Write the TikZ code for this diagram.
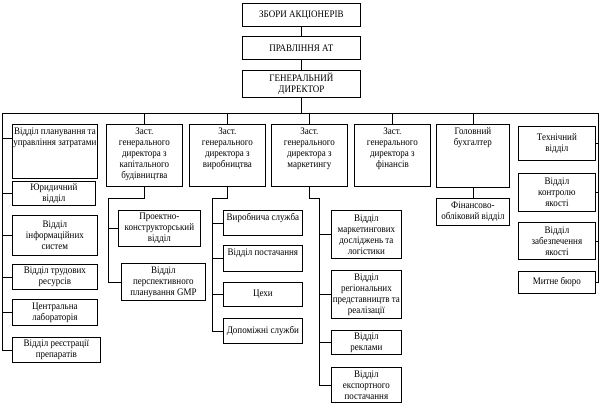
\documentclass[tikz,border=0pt]{standalone}
\usepackage{fontspec}
\setmainfont[FakeStretch=0.9]{Liberation Serif}
\usetikzlibrary{calc}
\newcommand{\bxt}[4]{\parbox[c][#2][#3]{#1}{\centering #4}}
\newcommand{\tpad}{\vspace*{3pt}}
\begin{document}
\begin{tikzpicture}[x=1pt,y=-1pt,
  bx/.style={draw, line width=0.8pt, inner sep=0pt, anchor=north west,
    font=\fontsize{10}{11}\selectfont},
  ln/.style={draw, line width=0.8pt}]
\useasboundingbox (0,0) rectangle (602,405);
% top
\node[bx] (sa) at (242,3) {\bxt{118pt}{23pt}{c}{ЗБОРИ АКЦІОНЕРІВ}};
\node[bx] (pr) at (242,36) {\bxt{118pt}{23pt}{c}{ПРАВЛІННЯ АТ}};
\node[bx] (gd) at (242,70) {\bxt{118pt}{27pt}{c}{ГЕНЕРАЛЬНИЙ\\ДИРЕКТОР}};
% left column
\node[bx] (l1) at (12,124) {\bxt{85pt}{54pt}{t}{\tpad Відділ планування та\\управління затратами}};
\node[bx] (l2) at (12,181) {\bxt{83pt}{24pt}{c}{Юридичний\\відділ}};
\node[bx] (l3) at (12,215) {\bxt{85pt}{40pt}{c}{Відділ\\інформаційних\\систем}};
\node[bx] (l4) at (12,264) {\bxt{85pt}{25pt}{c}{Відділ трудових\\ресурсів}};
\node[bx] (l5) at (12,299) {\bxt{85pt}{26pt}{c}{Центральна\\лабораторія}};
\node[bx] (l6) at (12,337) {\bxt{88pt}{25pt}{c}{Відділ реєстрації\\препаратів}};
% column 2
\node[bx] (z1) at (106,124) {\bxt{76pt}{62pt}{t}{\tpad Заст.\\генерального\\директора з\\капітального\\будівництва}};
\node[bx] (p1) at (118,210) {\bxt{82pt}{36pt}{c}{Проектно-\\конструкторський\\відділ}};
\node[bx] (p2) at (121,263) {\bxt{84pt}{37pt}{c}{Відділ\\перспективного\\планування GMP}};
% column 3
\node[bx] (z2) at (189,124) {\bxt{76pt}{62pt}{t}{\tpad Заст.\\генерального\\директора з\\виробництва}};
\node[bx] (v1) at (223,210) {\bxt{79pt}{25pt}{t}{\tpad Виробнича служба}};
\node[bx] (v2) at (223,245) {\bxt{79pt}{26pt}{t}{\tpad Відділ постачання}};
\node[bx] (v3) at (223,282) {\bxt{79pt}{24pt}{c}{Цехи}};
\node[bx] (v4) at (223,318) {\bxt{79pt}{25pt}{c}{Допоміжні служби}};
% column 4
\node[bx] (z3) at (271,124) {\bxt{76pt}{62pt}{t}{\tpad Заст.\\генерального\\директора з\\маркетингу}};
\node[bx] (m1) at (331,210) {\bxt{70pt}{48pt}{c}{Відділ\\маркетингових\\досліджень та\\логістики}};
\node[bx] (m2) at (331,270) {\bxt{70pt}{48pt}{c}{Відділ\\регіональних\\представництв та\\реалізації}};
\node[bx] (m3) at (331,330) {\bxt{70pt}{24pt}{c}{Відділ\\реклами}};
\node[bx] (m4) at (331,367) {\bxt{70pt}{35pt}{c}{Відділ\\експортного\\постачання}};
% column 5
\node[bx] (z4) at (354,124) {\bxt{76pt}{62pt}{t}{\tpad Заст.\\генерального\\директора з\\фінансів}};
% column 6
\node[bx] (gb) at (436,124) {\bxt{73pt}{63pt}{t}{\tpad Головний\\бухгалтер}};
\node[bx] (fo) at (436,198) {\bxt{73pt}{27pt}{c}{Фінансово-\\обліковий відділ}};
% right column
\node[bx] (r1) at (518,126) {\bxt{77pt}{34pt}{c}{Технічний\\відділ}};
\node[bx] (r2) at (518,173) {\bxt{77pt}{38pt}{c}{Відділ\\контролю\\якості}};
\node[bx] (r3) at (518,222) {\bxt{77pt}{37pt}{c}{Відділ\\забезпечення\\якості}};
\node[bx] (r4) at (518,271) {\bxt{77pt}{22pt}{c}{Митне бюро}};
% coordinates
\coordinate (busL) at (2,113);
\coordinate (busR) at (598,113);
\coordinate (k2) at (108,198);
\coordinate (k3) at (212,198);
\coordinate (k4) at (319,198);
\coordinate (l1c) at ($(l1.north west)+(0,14)$);
% connectors top
\draw[ln] (sa.south) -- (pr.north);
\draw[ln] (pr.south) -- (gd.north);
\draw[ln] (gd.south) -- (gd.south |- busL);
\draw[ln] (busL) -- (busR);
\foreach \n in {z1,z2,z3,z4,gb} \draw[ln] (\n.north) -- (\n.north |- busL);
% left
\draw[ln] (busL) -- (busL |- l6.west) -- (l6.west);
\draw[ln] (busL |- l1c) -- (l1c);
\foreach \n in {l2,l3,l4,l5} \draw[ln] (busL |- \n.west) -- (\n.west);
% column 2
\draw[ln] (z1.south) -- (z1.south |- k2) -- (k2) -- (k2 |- p2.west) -- (p2.west);
\draw[ln] (k2 |- p1.west) -- (p1.west);
% column 3
\draw[ln] (z2.south) -- (z2.south |- k3) -- (k3) -- (k3 |- v4.west) -- (v4.west);
\foreach \n in {v1,v2,v3} \draw[ln] (k3 |- \n.west) -- (\n.west);
% column 4
\draw[ln] (z3.south) -- (z3.south |- k4) -- (k4) -- (k4 |- m4.west) -- (m4.west);
\foreach \n in {m1,m2,m3} \draw[ln] (k4 |- \n.west) -- (\n.west);
% column 6
\draw[ln] (gb.south) -- (fo.north);
% right
\draw[ln] (busR) -- (busR |- r4.east) -- (r4.east);
\foreach \n in {r1,r2,r3} \draw[ln] (busR |- \n.east) -- (\n.east);
\end{tikzpicture}
\end{document}
